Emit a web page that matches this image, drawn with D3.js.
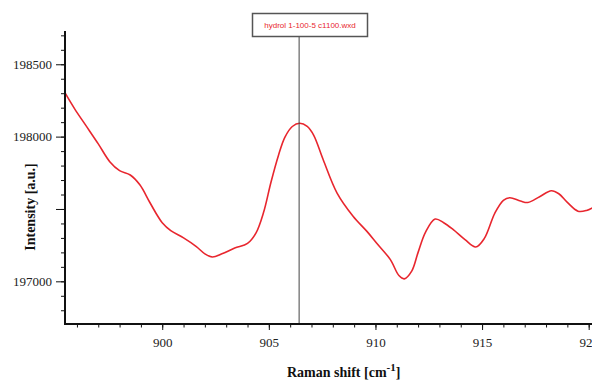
<!DOCTYPE html>
<html>
<head>
<meta charset="utf-8">
<script src="https://cdn.jsdelivr.net/npm/d3@7"></script>
<style>
html,body{margin:0;padding:0;background:#fff;overflow:hidden;}
svg{display:block;}
</style>
</head>
<body>
<svg id="chart" width="592" height="380"></svg>
<script>
// Data (Raman shift in cm^-1, intensity in a.u.)
const ramanShift = [895.45,895.9,896.4,897.0,897.55,898.0,898.5,898.95,899.4,899.75,900.0,900.4,901.0,901.6,902.0,902.35,902.8,903.4,904.0,904.4,904.75,905.1,905.45,905.75,906.1,906.45,906.8,907.1,907.55,908.2,908.95,909.6,910.05,910.7,911.1,911.35,911.7,912.0,912.35,912.8,913.2,913.65,914.2,914.7,915.1,915.6,916.0,916.3,916.8,917.15,917.7,918.25,918.6,919.0,919.5,919.9,920.2];
const intensity = [198300,198190,198081,197950,197825,197765,197735,197667,197550,197460,197405,197350,197300,197240,197190,197168,197190,197230,197262,197335,197475,197685,197870,197995,198070,198092,198070,198010,197840,197610,197450,197345,197265,197150,197040,197017,197070,197200,197340,197430,197405,197357,197288,197237,197295,197472,197560,197578,197555,197545,197585,197626,197605,197545,197485,197490,197510];
const xMajorTicks = [900,905,910,915,920];
const xMinorTicks = d3.range(896,921,1);
const yMajorTicks = [197000,197500,198000,198500];
const yMajorLabels = ["197000","","198000","198500"];
const yMinorTicks = d3.range(196800,198800,100);
const cursorShift = 906.42;
const cursorLabel = "hydrol 1-100-5 c1100.wxd";
const xTitle = "Raman shift [cm";
const yTitle = "Intensity [a.u.]";

const svg = d3.select("#chart");
const x = d3.scaleLinear().domain([895.44, 921]).range([65, 610]);
const y = d3.scaleLinear().domain([196705, 198730]).range([324, 31]);

const serif = "'Liberation Serif','Times New Roman',serif";

// curve
const data = ramanShift.map((v,i)=>({x:v,y:intensity[i]}));
svg.append("path")
  .datum(data)
  .attr("fill","none")
  .attr("stroke","#e8262e")
  .attr("stroke-width",1.6)
  .attr("d", d3.line().x(d=>x(d.x)).y(d=>y(d.y)).curve(d3.curveCatmullRom.alpha(0.5)));

// cursor line and label box
svg.append("line")
  .attr("x1", x(cursorShift)).attr("x2", x(cursorShift))
  .attr("y1", 37).attr("y2", 324)
  .attr("stroke","#444").attr("stroke-width",1);
svg.append("rect")
  .attr("x",252.5).attr("y",13.5).attr("width",115).attr("height",23)
  .attr("fill","#fff").attr("stroke","#555").attr("stroke-width",1.5);
svg.append("text")
  .attr("x",310).attr("y",28)
  .attr("text-anchor","middle")
  .attr("font-family","'Liberation Sans',Arial,sans-serif")
  .attr("font-size","8px")
  .attr("fill","#e8262e")
  .text(cursorLabel);

// X axis
const gx = svg.append("g").attr("transform","translate(0,324)");
gx.call(d3.axisBottom(x).tickValues(xMinorTicks).tickSize(3.5).tickFormat(""))
  .call(g=>g.select(".domain").remove());
gx.append("g").call(d3.axisBottom(x).tickValues(xMajorTicks).tickSize(6).tickPadding(8).tickFormat(d3.format("d")))
  .call(g=>g.select(".domain").remove())
  .call(g=>g.selectAll("text").attr("font-family",serif).attr("font-size","13px").attr("fill","#222"));
gx.selectAll("line").attr("stroke","#111").attr("stroke-width",1);
gx.append("line").attr("x1",64).attr("x2",600).attr("y1",0).attr("y2",0).attr("stroke","#111").attr("stroke-width",2);

// Y axis
const gy = svg.append("g").attr("transform","translate(65,0)");
gy.call(d3.axisLeft(y).tickValues(yMinorTicks).tickSize(4).tickFormat(""))
  .call(g=>g.select(".domain").remove());
gy.append("g").call(d3.axisLeft(y).tickValues(yMajorTicks).tickSize(9).tickPadding(4).tickFormat((d,i)=>yMajorLabels[i]))
  .call(g=>g.select(".domain").remove())
  .call(g=>g.selectAll("text").attr("font-family",serif).attr("font-size","13px").attr("fill","#222"));
gy.selectAll("line").attr("stroke","#111").attr("stroke-width",1);
gy.append("line").attr("x1",0).attr("x2",0).attr("y1",31).attr("y2",325).attr("stroke","#111").attr("stroke-width",2);

// Titles
const xt = svg.append("text")
  .attr("x",287).attr("y",377)
  .attr("font-family",serif).attr("font-weight","bold").attr("font-size","14px").attr("fill","#111");
xt.append("tspan").text(xTitle);
xt.append("tspan").attr("dy",-6).attr("font-size","11px").text("-1");
xt.append("tspan").attr("dy",6).text("]");

svg.append("text")
  .attr("transform","translate(35,207) rotate(-90)")
  .attr("text-anchor","middle")
  .attr("font-family",serif).attr("font-weight","bold").attr("font-size","14px").attr("fill","#111")
  .text(yTitle);
</script>
</body>
</html>
